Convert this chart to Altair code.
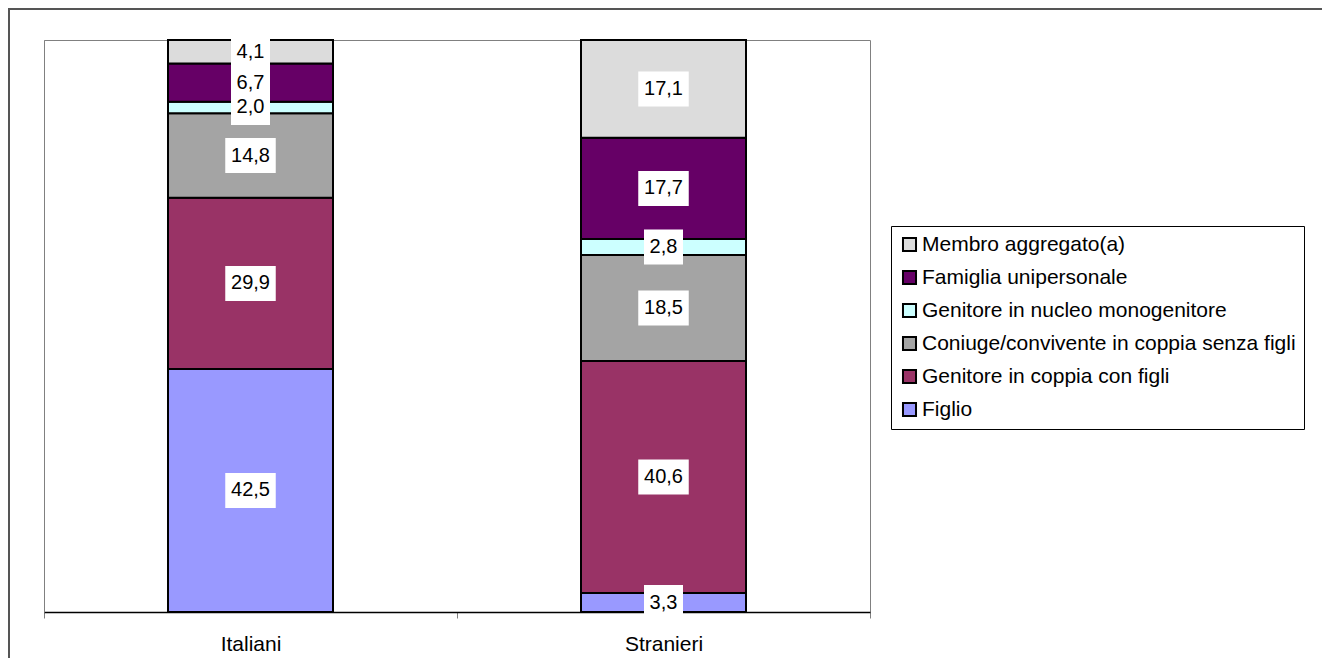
import altair as alt
import pandas as pd

groups = ["Italiani", "Stranieri"]
categories = [
    "Figlio",
    "Genitore in coppia con figli",
    "Coniuge/convivente in coppia senza figli",
    "Genitore in nucleo monogenitore",
    "Famiglia unipersonale",
    "Membro aggregato(a)",
]
italiani = [42.5, 29.9, 14.8, 2.0, 6.7, 4.1]
stranieri = [3.3, 40.6, 18.5, 2.8, 17.7, 17.1]
colors = ["#9999FF", "#993366", "#A4A4A4", "#CCFFFF", "#660066", "#DCDCDC"]

rows = []
for g, vals in zip(groups, [italiani, stranieri]):
    cum = 0.0
    for i, (c, v) in enumerate(zip(categories, vals)):
        label = f"{v:.1f}".replace(".", ",")
        mid = cum + v / 2
        rows.append({
            "gruppo": g, "cat": c, "val": v, "ord": i,
            "label": label, "mid": mid,
            "lo": mid - 3.06, "hi": mid + 3.06,
            "w": 11 + 11.5 * len(label.replace(",", "")) + 5,
        })
        cum += v
df = pd.DataFrame(rows)

legend_order = list(reversed(categories))
legend_colors = list(reversed(colors))

xscale = alt.Scale(paddingInner=0, paddingOuter=0)
xenc = alt.X("gruppo:N", sort=groups, title=None, scale=xscale,
             axis=alt.Axis(labelAngle=0, tickBand="extent", labelFontSize=21,
                           labelFont="Liberation Sans", labelColor="black",
                           tickSize=6, tickColor="#808080", domainColor="black",
                           domainWidth=1.5, labelPadding=15))

base = alt.Chart(df)

bars = base.mark_bar(stroke="black", strokeWidth=2, width=165).encode(
    x=xenc,
    y=alt.Y("val:Q", stack="zero", scale=alt.Scale(domain=[0, 100], nice=False),
            title=None,
            axis=alt.Axis(labels=False, ticks=False, grid=False, domainColor="#808080")),
    color=alt.Color("cat:N", scale=alt.Scale(domain=legend_order, range=legend_colors),
                    title=None,
                    legend=alt.Legend(orient="none", legendX=847, legendY=186,
                                      strokeColor="black", fillColor="white",
                                      padding=8, symbolType="square", symbolSize=170,
                                      symbolStrokeColor="black", symbolStrokeWidth=2,
                                      labelFontSize=21, labelFont="Liberation Sans",
                                      labelColor="black", rowPadding=10,
                                      labelOffset=2, labelLimit=600)),
    order=alt.Order("ord:Q"),
)

boxes = base.mark_bar(color="white").encode(
    x=alt.X("gruppo:N", sort=groups, scale=xscale),
    y=alt.Y("lo:Q"),
    y2="hi:Q",
    size=alt.Size("w:Q", scale=None, legend=None),
)

texts = base.mark_text(fontSize=20, font="Liberation Sans", color="black",
                       baseline="middle").encode(
    x=alt.X("gruppo:N", sort=groups, scale=xscale),
    y=alt.Y("mid:Q"),
    text="label:N",
)

frame = alt.Chart(pd.DataFrame({"k": [0]})).mark_rect(
    fill=None, stroke="#555555", strokeWidth=2
).encode(
    x=alt.value(-35), x2=alt.value(1400), y=alt.value(-31), y2=alt.value(800)
)

chart = alt.layer(bars, boxes, texts, frame).properties(
    width=826, height=572,
    autosize=alt.AutoSizeParams(type="none"),
    padding={"left": 36, "top": 32, "right": 452, "bottom": 46},
).configure_view(stroke="#808080", strokeWidth=1).configure_axis(grid=False)

chart.save("out.html", embed_options={"renderer": "svg", "actions": False})
